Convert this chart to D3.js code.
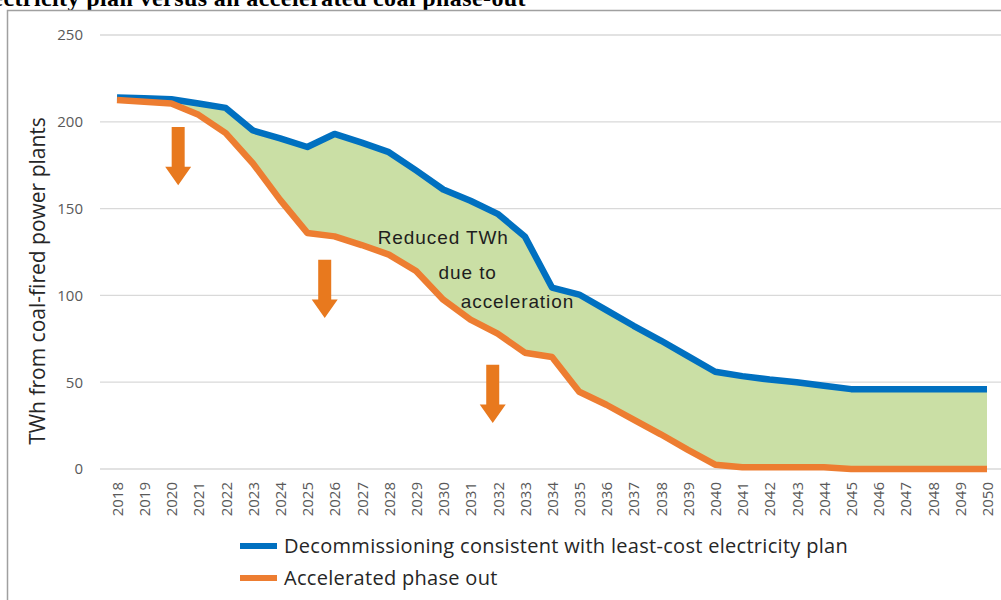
<!DOCTYPE html>
<html>
<head>
<meta charset="utf-8">
<script src="https://cdn.jsdelivr.net/npm/d3@7"></script>
<style>
  html, body { margin: 0; padding: 0; background: #fff; overflow: hidden; }
  svg { display: block; }
</style>
</head>
<body>
<svg id="chart" width="1001" height="600"></svg>
<script>
// Years on the category axis
const years = [2018, 2019, 2020, 2021, 2022, 2023, 2024, 2025, 2026, 2027, 2028,
  2029, 2030, 2031, 2032, 2033, 2034, 2035, 2036, 2037, 2038, 2039, 2040,
  2041, 2042, 2043, 2044, 2045, 2046, 2047, 2048, 2049, 2050];

// TWh from coal-fired plants, decommissioning consistent with least-cost plan
const leastCost = [214, 213.5, 213, 210.5, 208, 195, 190.5, 185.5, 193, 188, 182.5,
  172, 161, 154.5, 147, 134, 104.5, 100.5, 91.5, 82.5, 74, 65, 56,
  53.5, 51.5, 50, 48, 46, 46, 46, 46, 46, 46];

// TWh from coal-fired plants, accelerated phase out
const accelerated = [212.5, 211.5, 210.5, 204, 193.5, 176, 155, 136, 134, 129, 123.5,
  114, 97.5, 86, 78, 67, 64.5, 44.5, 37, 28.5, 20, 11, 2.5,
  1, 1, 1, 1, 0, 0, 0, 0, 0, 0];

const yTicks = [0, 50, 100, 150, 200, 250];

const seriesNames = [
  "Decommissioning consistent with least-cost electricity plan",
  "Accelerated phase out"
];

// Downward arrows (year position, start value, tip value)
const arrowYears = [2020.25, 2025.64, 2031.82];
const arrowFrom = [197, 120.5, 60];
const arrowTo = [163.5, 87, 26.5];

// Annotation inside the shaded band
const noteLines = ["Reduced TWh", "due to", "acceleration"];
const noteYears = [2030.0, 2030.9, 2032.73];
const noteValues = [129.6, 109.3, 92.6];

const svg = d3.select("#chart");
const W = 1001, H = 600;

const x = d3.scaleLinear().domain([2018, 2050]).range([117, 987]);
const y = d3.scaleLinear().domain([0, 250]).range([469, 35]);

const colors = { blue: "#0070C0", orange: "#ED7D31", band: "#CADFA5", arrow: "#E8791E" };

// Title (runs off the top-left of the frame)
svg.append("text")
  .attr("x", 526).attr("y", 6)
  .attr("text-anchor", "end")
  .style("font-family", "'Liberation Serif', 'Times New Roman', serif")
  .style("font-weight", "bold")
  .style("font-size", "24px")
  .style("letter-spacing", "0.4px")
  .attr("fill", "#000")
  .text("electricity plan versus an accelerated coal phase-out");

// Chart frame
svg.append("rect")
  .attr("x", 7.5).attr("y", 10.5)
  .attr("width", 1100).attr("height", 700)
  .attr("fill", "none")
  .attr("stroke", "#A0A0A0")
  .attr("stroke-width", 1.5);

// Horizontal gridlines
svg.append("g").selectAll("line")
  .data(yTicks).join("line")
  .attr("x1", 100).attr("x2", W)
  .attr("y1", d => y(d)).attr("y2", d => y(d))
  .attr("stroke", "#D9D9D9").attr("stroke-width", 1.3);

// Y axis labels
const yAxis = d3.axisLeft(y).tickValues(yTicks).tickSize(0).tickPadding(0);
const yg = svg.append("g").attr("transform", "translate(83,0)").call(yAxis);
yg.select(".domain").remove();
yg.selectAll("text")
  .style("font-family", "'Open Sans', sans-serif")
  .style("font-size", "15px")
  .attr("fill", "#595959");

// X axis labels (rotated years)
const xAxis = d3.axisBottom(x).tickValues(years).tickFormat(d3.format("d")).tickSize(0).tickPadding(0);
const xg = svg.append("g").attr("transform", `translate(0,${y(0)})`).call(xAxis);
xg.select(".domain").remove();
xg.selectAll("text")
  .attr("transform", "rotate(-90)")
  .attr("text-anchor", "end")
  .attr("x", -13)
  .attr("y", 0)
  .attr("dy", "0.36em")
  .style("font-family", "'Open Sans', sans-serif")
  .style("font-size", "15px")
  .attr("fill", "#595959");

// Y axis title
svg.append("text")
  .attr("transform", `translate(45,${(115 + 447) / 2}) rotate(-90)`)
  .attr("text-anchor", "middle")
  .style("font-family", "'Open Sans', sans-serif")
  .style("font-size", "21px")
  .attr("fill", "#262626")
  .text("TWh from coal-fired power plants");

// Shaded band between the two pathways
const rows = years.map((yr, i) => ({ yr, hi: leastCost[i], lo: accelerated[i] }));
svg.append("path")
  .datum(rows)
  .attr("d", d3.area().x(d => x(d.yr)).y0(d => y(d.lo)).y1(d => y(d.hi)))
  .attr("fill", colors.band);

// Lines
const lineFor = key => d3.line().x(d => x(d.yr)).y(d => y(d[key]));
svg.append("path").datum(rows)
  .attr("d", lineFor("hi"))
  .attr("fill", "none").attr("stroke", colors.blue)
  .attr("stroke-width", 6.5).attr("stroke-linejoin", "round");
svg.append("path").datum(rows)
  .attr("d", lineFor("lo"))
  .attr("fill", "none").attr("stroke", colors.orange)
  .attr("stroke-width", 6.5).attr("stroke-linejoin", "round");

// Down arrows
const shaftW = 13, headW = 26, headL = 18.5;
arrowYears.forEach((yr, i) => {
  const cx = x(yr), top = y(arrowFrom[i]), tip = y(arrowTo[i]);
  const hb = tip - headL;
  const p = d3.path();
  p.moveTo(cx - shaftW / 2, top);
  p.lineTo(cx + shaftW / 2, top);
  p.lineTo(cx + shaftW / 2, hb);
  p.lineTo(cx + headW / 2, hb);
  p.lineTo(cx, tip);
  p.lineTo(cx - headW / 2, hb);
  p.lineTo(cx - shaftW / 2, hb);
  p.closePath();
  svg.append("path").attr("d", p.toString()).attr("fill", colors.arrow);
});

// Annotation text
noteLines.forEach((t, i) => {
  svg.append("text")
    .attr("x", x(noteYears[i])).attr("y", y(noteValues[i]))
    .attr("text-anchor", "middle")
    .style("font-family", "'Liberation Sans', Arial, sans-serif")
    .style("font-size", "19px")
    .style("letter-spacing", "0.9px")
    .attr("fill", "#1E1E1E")
    .text(t);
});

// Legend
const legendColors = [colors.blue, colors.orange];
const legendY = [546, 578];
const lg = svg.append("g");
seriesNames.forEach((name, i) => {
  lg.append("line")
    .attr("x1", 240).attr("x2", 277)
    .attr("y1", legendY[i]).attr("y2", legendY[i])
    .attr("stroke", legendColors[i]).attr("stroke-width", 6);
  lg.append("text")
    .attr("x", 284).attr("y", legendY[i])
    .attr("dy", "0.36em")
    .style("font-family", "'Open Sans', sans-serif")
    .style("font-size", "20px")
    .style("letter-spacing", "0.3px")
    .attr("fill", "#262626")
    .text(name);
});
</script>
</body>
</html>
